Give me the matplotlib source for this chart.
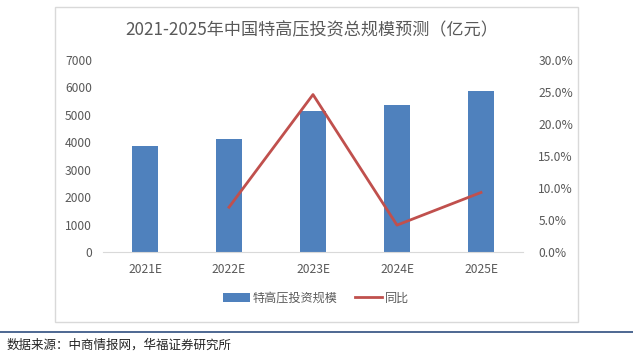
import matplotlib
matplotlib.use("Agg")
from matplotlib import pyplot as plt
from matplotlib.patches import Rectangle
from matplotlib.lines import Line2D
from matplotlib.ticker import FuncFormatter

plt.rcParams['font.family'] = ['Noto Sans CJK SC', 'DejaVu Sans']

years = ["2021E", "2022E", "2023E", "2024E", "2025E"]
invest = [3870, 4120, 5130, 5370, 5870]          # 特高压投资规模（亿元）
yoy_years = ["2022E", "2023E", "2024E", "2025E"]
yoy = [7.0, 24.6, 4.2, 9.3]                       # 同比 %

W, H = 633, 358
fig = plt.figure(figsize=(W / 100, H / 100), dpi=100)

# chart frame
fig.patches.append(Rectangle((55 / W, 1 - 322 / H), 523 / W, 315 / H,
                             transform=fig.transFigure, fill=False,
                             edgecolor="#D9D9D9", linewidth=1))
# blue separator under the chart
fig.lines.append(Line2D([0, 1], [1 - 332 / H, 1 - 332 / H], transform=fig.transFigure,
                        color="#2F4E7F", linewidth=1.2))

ax = fig.add_axes([103 / W, 1 - 252 / H, 420 / W, 192 / H])
x = list(range(len(years)))
bars = ax.bar(x, invest, width=0.3, color="#4F81BD", label="特高压投资规模")
ax.set_xlim(-0.5, len(years) - 0.5)
ax.set_ylim(0, 7000)
ax.set_yticks(range(0, 7001, 1000))
ax.set_xticks(x)
ax.set_xticklabels(years)
for s in ["top", "right", "left"]:
    ax.spines[s].set_visible(False)
ax.spines["bottom"].set_color("#D9D9D9")
ax.tick_params(length=0, colors="#595959", labelsize=8.7)
ax.tick_params(axis="x", pad=8)
ax.tick_params(axis="y", pad=8)

ax2 = ax.twinx()
xi = [years.index(y) for y in yoy_years]
line, = ax2.plot(xi, yoy, color="#C0504D", linewidth=2, label="同比")
ax2.set_ylim(0, 30)
ax2.set_yticks(range(0, 31, 5))
ax2.yaxis.set_major_formatter(FuncFormatter(lambda v, p: f"{v:.1f}%"))
for s in ["top", "right", "left", "bottom"]:
    ax2.spines[s].set_visible(False)
ax2.tick_params(length=0, colors="#595959", labelsize=8.7, pad=11)

fig.text(312 / W, 1 - 30 / H, "2021-2025年中国特高压投资总规模预测（亿元）",
         ha="center", va="center", fontsize=12.3, color="#595959")

fig.legend(handles=[bars, line], labels=["特高压投资规模", "同比"],
           loc="center", bbox_to_anchor=(316 / W, 1 - 298 / H), ncol=2,
           frameon=False, fontsize=8.7, handlelength=2.2, handletextpad=0.2,
           columnspacing=1.5, labelcolor="#595959")

fig.text(7 / W, 1 - 345 / H, "数据来源：中商情报网，华福证券研究所",
         ha="left", va="center", fontsize=9, color="#222222")

fig.savefig("out.png", dpi=100)
